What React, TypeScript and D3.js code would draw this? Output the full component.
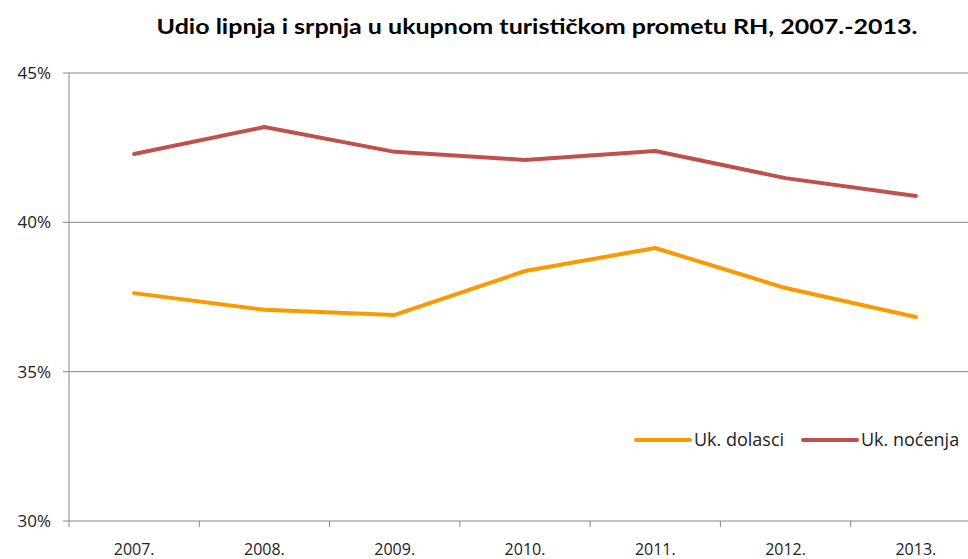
import React from "react";
import * as d3 from "d3";

const years = ["2007.", "2008.", "2009.", "2010.", "2011.", "2012.", "2013."];
const dolasci = [37.63, 37.07, 36.9, 38.37, 39.14, 37.8, 36.83];
const nocenja = [42.29, 43.19, 42.36, 42.09, 42.39, 41.48, 40.88];
const yTicks = [30, 35, 40, 45];
const seriesNames = ["Uk. dolasci", "Uk. noćenja"];
const colors = ["#F99A00", "#C0504D"];

export default function App() {
  const W = 968, H = 559;
  const left = 69, right = 981, top = 73, bottom = 521;
  const x = d3.scaleBand<string>().domain(years).range([left, right]);
  const y = d3.scaleLinear().domain([30, 45]).range([bottom, top]);
  const line = d3
    .line<number>()
    .x((_, i) => (x(years[i]) as number) + x.bandwidth() / 2)
    .y((d) => y(d));
  const font = "Lato, 'Open Sans', sans-serif";
  const labelFont = "'Open Sans', sans-serif";
  const axisColor = "#868686";
  const series = [dolasci, nocenja];
  const legendX = [636, 803];
  return (
    <svg width={W} height={H} style={{ position: "absolute", left: 0, top: 0 }} fontFamily={font}>
      <rect width={W} height={H} fill="#fff" />
      <text x={537} y={34} textAnchor="middle" fontSize={20} fontWeight="bold" fill="#000" textLength={761} lengthAdjust="spacingAndGlyphs">
        Udio lipnja i srpnja u ukupnom turističkom prometu RH, 2007.-2013.
      </text>
      {yTicks.map((t) => (
        <g key={t}>
          {t > 30 && <line x1={left} x2={W} y1={y(t)} y2={y(t)} stroke={axisColor} strokeWidth={1} />}
          <line x1={left - 6} x2={left} y1={y(t)} y2={y(t)} stroke={axisColor} />
          <text x={51} y={y(t) + 6} textAnchor="end" fontSize={17} fill="#222" fontFamily={labelFont}>{t}%</text>
        </g>
      ))}
      <line x1={left} x2={left} y1={top} y2={bottom} stroke={axisColor} />
      <line x1={left} x2={W} y1={bottom} y2={bottom} stroke={axisColor} />
      {years.map((yr) => (
        <g key={yr}>
          <line x1={(x(yr) as number)} x2={(x(yr) as number)} y1={bottom} y2={bottom + 6} stroke={axisColor} />
          <text x={(x(yr) as number) + x.bandwidth() / 2} y={555} textAnchor="middle" fontSize={16} fill="#222" fontFamily={labelFont}>{yr}</text>
        </g>
      ))}
      {series.map((s, i) => (
        <path key={i} d={line(s) || ""} fill="none" stroke={colors[i]} strokeWidth={4} strokeLinejoin="round" strokeLinecap="round" />
      ))}
      {seriesNames.map((n, i) => (
        <g key={n}>
          <line x1={legendX[i]} x2={legendX[i] + 54} y1={440} y2={440} stroke={colors[i]} strokeWidth={4} strokeLinecap="round" />
          <text x={legendX[i] + 58} y={446} fontSize={18} fill="#222" fontFamily={labelFont}>{n}</text>
        </g>
      ))}
    </svg>
  );
}
